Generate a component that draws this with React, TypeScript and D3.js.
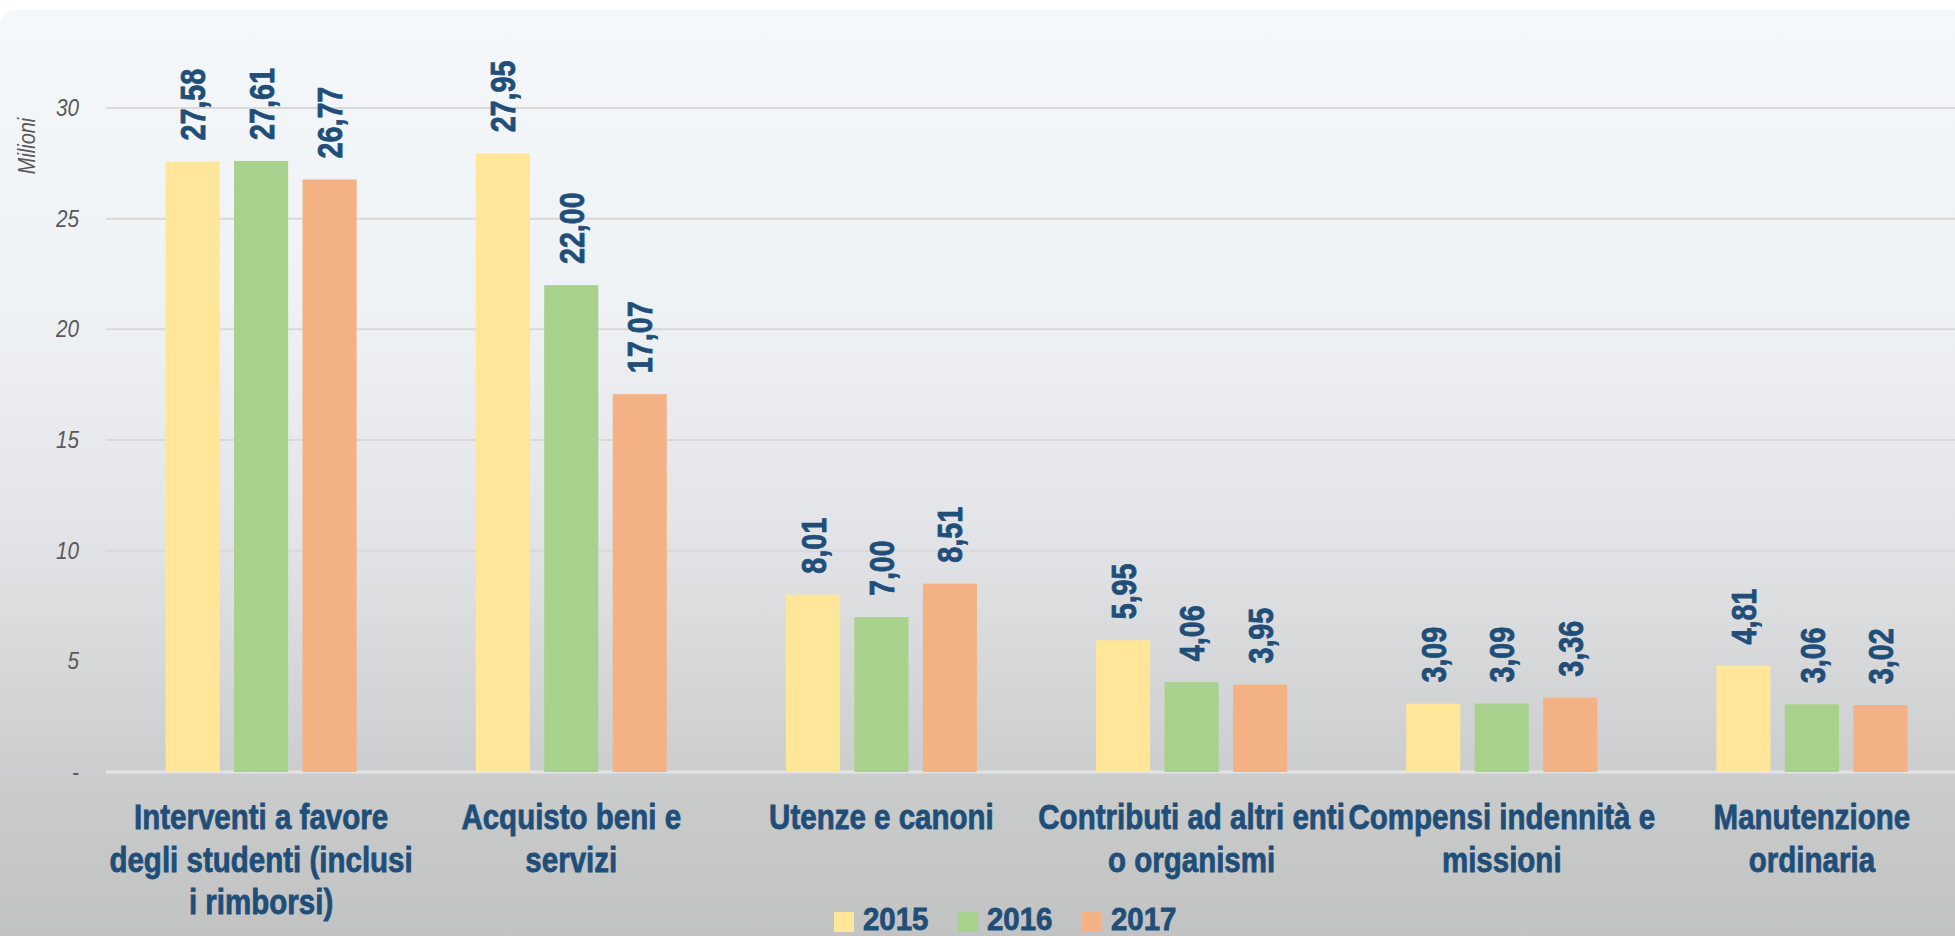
import React from "react";
import * as d3 from "d3";

const categories = [
  ["Interventi a favore", "degli studenti (inclusi", "i rimborsi)"],
  ["Acquisto beni e", "servizi"],
  ["Utenze e canoni"],
  ["Contributi ad altri enti", "o organismi"],
  ["Compensi indennità e", "missioni"],
  ["Manutenzione", "ordinaria"],
];
const series = ["2015", "2016", "2017"];
const values2015 = [27.58, 27.95, 8.01, 5.95, 3.09, 4.81];
const values2016 = [27.61, 22.0, 7.0, 4.06, 3.09, 3.06];
const values2017 = [26.77, 17.07, 8.51, 3.95, 3.36, 3.02];
const yTicks = [0, 5, 10, 15, 20, 25, 30];
const colors = ["#ffe699", "#a9d18e", "#f4b183"];

const W = 1955;
const H = 936;
const FONT = "'Liberation Sans', Arial, sans-serif";
const TEXT = "#1f4e79";
const NARROW = 0.82;

export default function App() {
  const seriesValues = [values2015, values2016, values2017];
  const catKeys = categories.map((c) => c.join(" "));
  const y = d3.scaleLinear().domain([0, 30]).range([772, 108]);
  const x0 = d3.scaleBand<string>().domain(catKeys).range([106, 1967]).padding(0);
  const x1 = d3
    .scaleBand<string>()
    .domain(series)
    .range([0, x0.bandwidth()])
    .paddingInner(0.21)
    .paddingOuter(0.87);
  const fmt = (v: number) => d3.format(".2f")(v).replace(".", ",");

  return (
    <svg
      width={W}
      height={H}
      style={{ position: "absolute", left: 0, top: 0, display: "block" }}
    >
      <defs>
        <linearGradient id="bg" x1="0" y1="0" x2="0" y2="1">
          <stop offset="0" stopColor="#f5f8fb" />
          <stop offset="0.3" stopColor="#eff2f5" />
          <stop offset="0.55" stopColor="#e2e3e6" />
          <stop offset="0.82" stopColor="#c9caca" />
          <stop offset="1" stopColor="#c0c0c0" />
        </linearGradient>
      </defs>
      <rect x={0} y={0} width={W} height={H} fill="#ffffff" />
      <rect x={0} y={10} width={W + 30} height={H + 30} rx={16} fill="url(#bg)" />

      {/* gridlines */}
      {yTicks.map((t) => (
        <line
          key={t}
          x1={106}
          x2={W}
          y1={y(t)}
          y2={y(t)}
          stroke={t === 0 ? "#e4e4e4" : "#d9d9d9"}
          strokeWidth={t === 0 ? 3 : 2}
        />
      ))}

      {/* y tick labels */}
      {yTicks.map((t) => (
        <text
          key={"l" + t}
          transform={`translate(79,${y(t)}) scale(0.9,1)`}
          dy="0.35em"
          textAnchor="end"
          fontFamily={FONT}
          fontStyle="italic"
          fontSize={23}
          fill="#595959"
        >
          {t === 0 ? "-" : String(t)}
        </text>
      ))}
      <text
        transform="translate(35,146) rotate(-90) scale(0.83,1)"
        textAnchor="middle"
        fontFamily={FONT}
        fontStyle="italic"
        fontSize={24}
        fill="#595959"
      >
        Milioni
      </text>

      {/* bars */}
      {catKeys.map((ck, ci) => (
        <g key={ck} transform={`translate(${x0(ck)},0)`}>
          {series.map((s, si) => {
            const v = seriesValues[si][ci];
            const bx = x1(s)!;
            const bw = x1.bandwidth();
            return (
              <g key={s}>
                <rect x={bx} y={y(v)} width={bw} height={y(0) - y(v)} fill={colors[si]} />
                <text
                  transform={`translate(${bx + bw / 2},${y(v) - 21}) rotate(-90) scale(${NARROW},1)`}
                  dy="0.36em"
                  textAnchor="start"
                  fontFamily={FONT}
                  fontWeight="bold"
                  fontSize={35}
                  fill={TEXT}
                  stroke={TEXT}
                  strokeWidth={0.8}
                >
                  {fmt(v)}
                </text>
              </g>
            );
          })}
        </g>
      ))}

      {/* category labels */}
      {categories.map((lines, ci) => {
        const cx = x0(catKeys[ci])! + x0.bandwidth() / 2;
        return (
          <g key={ci}>
            {lines.map((ln, li) => (
              <text
                key={li}
                transform={`translate(${cx},${829 + li * 42.5}) scale(${NARROW},1)`}
                textAnchor="middle"
                fontFamily={FONT}
                fontWeight="bold"
                fontSize={36}
                fill={TEXT}
                stroke={TEXT}
                strokeWidth={0.8}
              >
                {ln}
              </text>
            ))}
          </g>
        );
      })}

      {/* legend */}
      {series.map((s, si) => {
        const lx = 834 + si * 124;
        return (
          <g key={s}>
            <rect x={lx} y={912} width={20} height={20} fill={colors[si]} />
            <text
              transform={`translate(${lx + 29},930) scale(0.92,1)`}
              fontFamily={FONT}
              fontWeight="bold"
              fontSize={32}
              fill={TEXT}
              stroke={TEXT}
              strokeWidth={0.8}
            >
              {s}
            </text>
          </g>
        );
      })}
    </svg>
  );
}
